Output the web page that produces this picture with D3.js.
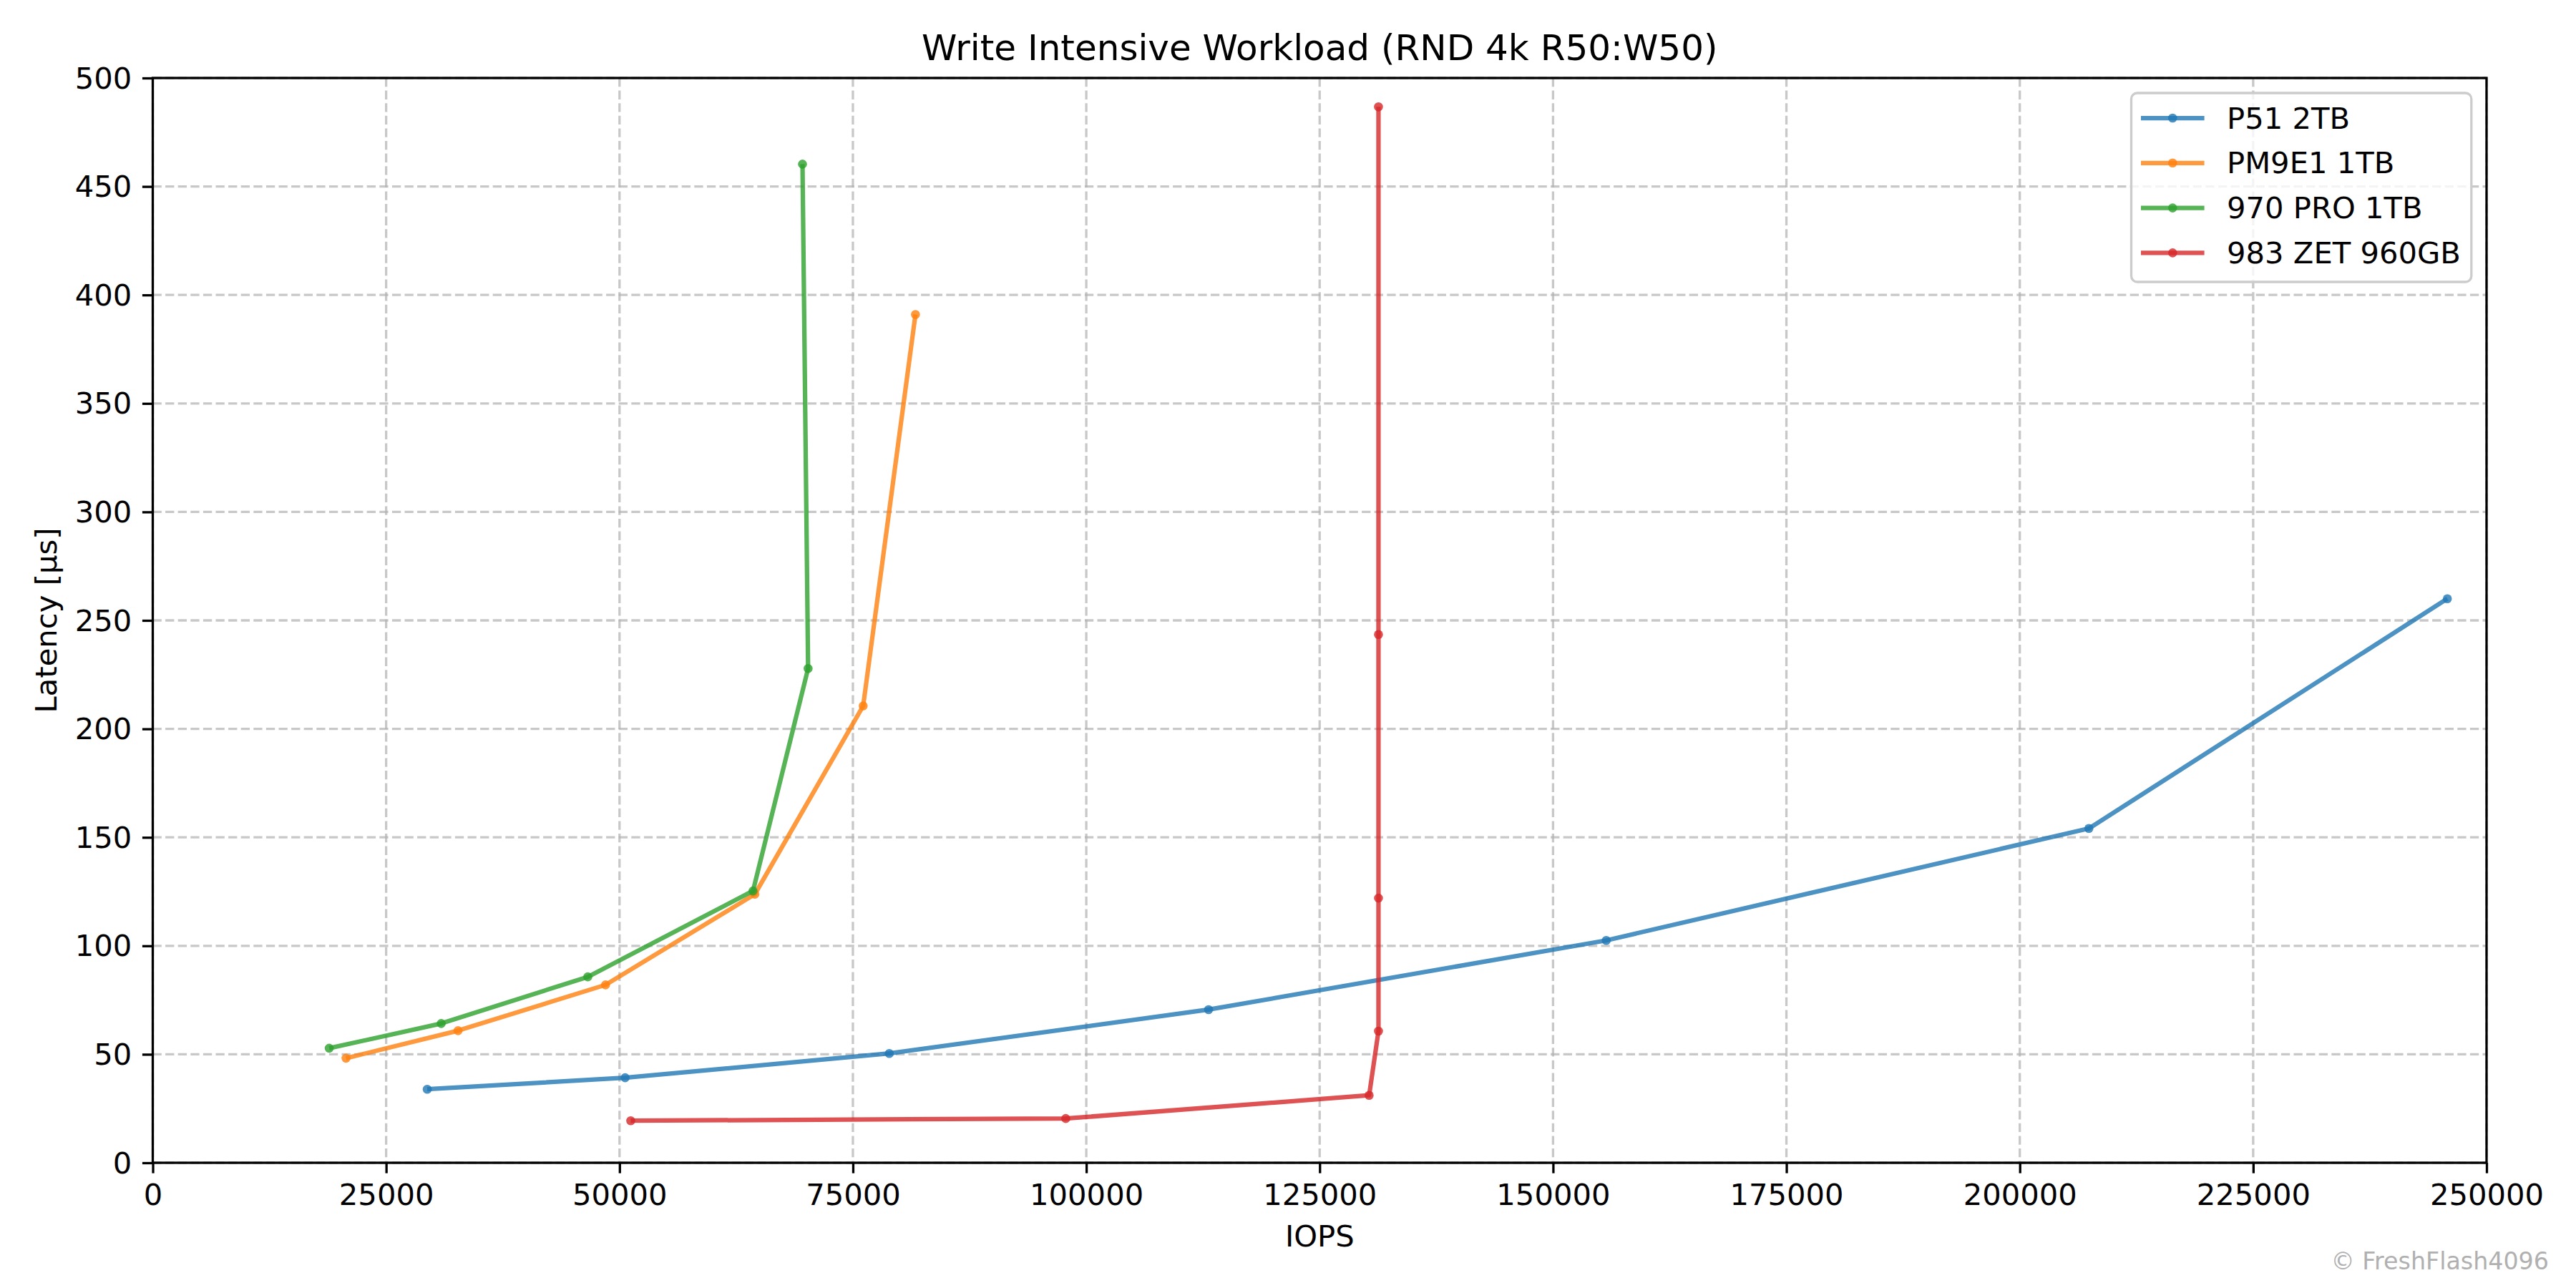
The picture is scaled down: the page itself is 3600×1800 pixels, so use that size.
<!DOCTYPE html>
<html>
<head>
<meta charset="utf-8">
<script src="https://cdn.jsdelivr.net/npm/d3@7"></script>
<style>
  html, body { margin: 0; padding: 0; background: #fff; }
  svg { display: block; font-family: "DejaVu Sans", sans-serif; }
</style>
</head>
<body>
<svg id="chart" width="3600" height="1800"></svg>
<script>
// ---- Data ----
const seriesNames = ["P51 2TB", "PM9E1 1TB", "970 PRO 1TB", "983 ZET 960GB"];
const seriesColors = ["#1f77b4", "#ff7f0e", "#2ca02c", "#d62728"];

const p51Iops = [29400, 50600, 78900, 113100, 155700, 207400, 245800];
const p51Lat  = [33.9, 39.2, 50.4, 70.6, 102.5, 154.1, 260.0];

const pm9e1Iops = [20700, 32700, 48500, 64500, 76100, 81700];
const pm9e1Lat  = [48.2, 60.9, 82.0, 123.8, 210.6, 391.0];

const pro970Iops = [18900, 30900, 46600, 64300, 70200, 69600];
const pro970Lat  = [52.8, 64.2, 85.7, 125.3, 227.8, 460.3];

const zet983Iops = [51200, 97800, 130300, 131300, 131300, 131300, 131300];
const zet983Lat  = [19.4, 20.4, 31.1, 60.7, 122.0, 243.5, 486.7];

const xTicks = [0, 25000, 50000, 75000, 100000, 125000, 150000, 175000, 200000, 225000, 250000];
const yTicks = [0, 50, 100, 150, 200, 250, 300, 350, 400, 450, 500];

const titleText = "Write Intensive Workload (RND 4k R50:W50)";
const xLabelText = "IOPS";
const yLabelText = "Latency [µs]";
const watermarkText = "© FreshFlash4096";

const series = [
  { name: seriesNames[0], color: seriesColors[0], x: p51Iops, y: p51Lat },
  { name: seriesNames[1], color: seriesColors[1], x: pm9e1Iops, y: pm9e1Lat },
  { name: seriesNames[2], color: seriesColors[2], x: pro970Iops, y: pro970Lat },
  { name: seriesNames[3], color: seriesColors[3], x: zet983Iops, y: zet983Lat }
];

// ---- Layout ----
const svg = d3.select("#chart");
const W = 3600, H = 1800;
const m = { left: 213.5, right: 3475, top: 109, bottom: 1625 };
const fs = 41.7;       // 10pt at 300dpi
const tickLen = 14.6;
const lw = 3.3;

svg.append("rect").attr("width", W).attr("height", H).attr("fill", "#fff");

const x = d3.scaleLinear().domain([0, 250000]).range([m.left, m.right]);
const y = d3.scaleLinear().domain([0, 500]).range([m.bottom, m.top]);

// Grid
const grid = svg.append("g");
grid.selectAll(".gx").data(xTicks).enter().append("line")
  .attr("x1", d => x(d)).attr("x2", d => x(d))
  .attr("y1", m.top).attr("y2", m.bottom)
  .attr("stroke", "#b0b0b0").attr("stroke-opacity", 0.7)
  .attr("stroke-width", lw).attr("stroke-dasharray", "12.3,5.3");
grid.selectAll(".gy").data(yTicks).enter().append("line")
  .attr("y1", d => y(d)).attr("y2", d => y(d))
  .attr("x1", m.left).attr("x2", m.right)
  .attr("stroke", "#b0b0b0").attr("stroke-opacity", 0.7)
  .attr("stroke-width", lw).attr("stroke-dasharray", "12.3,5.3");

// Series
const line = d3.line().x(d => x(d[0])).y(d => y(d[1]));
series.forEach(s => {
  const pts = s.x.map((v, i) => [v, s.y[i]]);
  const g = svg.append("g");
  g.append("path").datum(pts).attr("d", line)
    .attr("fill", "none").attr("stroke", s.color)
    .attr("stroke-width", 6.25).attr("stroke-opacity", 0.8)
    .attr("stroke-linejoin", "round").attr("stroke-linecap", "butt");
  g.selectAll("circle").data(pts).enter().append("circle")
    .attr("cx", d => x(d[0])).attr("cy", d => y(d[1]))
    .attr("r", 6.3).attr("fill", s.color).attr("fill-opacity", 0.8);
});

// Axes
const xAxis = d3.axisBottom(x).tickValues(xTicks).tickFormat(d3.format("d"))
  .tickSizeInner(tickLen).tickSizeOuter(0).tickPadding(14.6);
const yAxis = d3.axisLeft(y).tickValues(yTicks).tickFormat(d3.format("d"))
  .tickSizeInner(tickLen).tickSizeOuter(0).tickPadding(14.6);

const gx = svg.append("g").attr("transform", `translate(0,${m.bottom})`).call(xAxis);
const gy = svg.append("g").attr("transform", `translate(${m.left},0)`).call(yAxis);
[gx, gy].forEach(g => {
  g.select(".domain").remove();
  g.selectAll(".tick line").attr("stroke", "#000").attr("stroke-width", lw);
  g.selectAll(".tick text").attr("fill", "#000")
    .attr("font-size", fs).attr("font-family", "DejaVu Sans, sans-serif");
});
gx.selectAll(".tick text").attr("dy", "0.71em");
gy.selectAll(".tick text").attr("dy", "0.34em");

// Frame (spines)
svg.append("rect")
  .attr("x", m.left).attr("y", m.top)
  .attr("width", m.right - m.left).attr("height", m.bottom - m.top)
  .attr("fill", "none").attr("stroke", "#000").attr("stroke-width", lw);

// Title & labels
svg.append("text").attr("x", (m.left + m.right) / 2).attr("y", 84)
  .attr("text-anchor", "middle").attr("font-size", 50).attr("fill", "#000")
  .text(titleText);
svg.append("text").attr("x", (m.left + m.right) / 2).attr("y", 1742)
  .attr("text-anchor", "middle").attr("font-size", fs).attr("fill", "#000")
  .text(xLabelText);
svg.append("text")
  .attr("transform", `translate(79,${(m.top + m.bottom) / 2}) rotate(-90)`)
  .attr("text-anchor", "middle").attr("font-size", fs).attr("fill", "#000")
  .text(yLabelText);

// Legend
const lg = svg.append("g");
lg.append("rect").attr("x", 2978.5).attr("y", 130)
  .attr("width", 3453.8 - 2978.5).attr("height", 394 - 130)
  .attr("rx", 8.3).attr("ry", 8.3)
  .attr("fill", "#fff").attr("fill-opacity", 0.8)
  .attr("stroke", "#cccccc").attr("stroke-width", 3.3);
series.forEach((s, i) => {
  const cy = 165 + i * 62.8;
  lg.append("line").attr("x1", 2992).attr("x2", 3080.6)
    .attr("y1", cy).attr("y2", cy)
    .attr("stroke", s.color).attr("stroke-width", 6.25).attr("stroke-opacity", 0.8);
  lg.append("circle").attr("cx", (2992 + 3080.6) / 2).attr("cy", cy)
    .attr("r", 6.3).attr("fill", s.color).attr("fill-opacity", 0.8);
  lg.append("text").attr("x", 3112).attr("y", cy + 14.5)
    .attr("font-size", fs).attr("fill", "#000").text(s.name);
});

// Watermark
svg.append("text").attr("x", 3562).attr("y", 1774)
  .attr("text-anchor", "end").attr("font-size", 33.3).attr("fill", "#b0b0b0")
  .text(watermarkText);
</script>
</body>
</html>
